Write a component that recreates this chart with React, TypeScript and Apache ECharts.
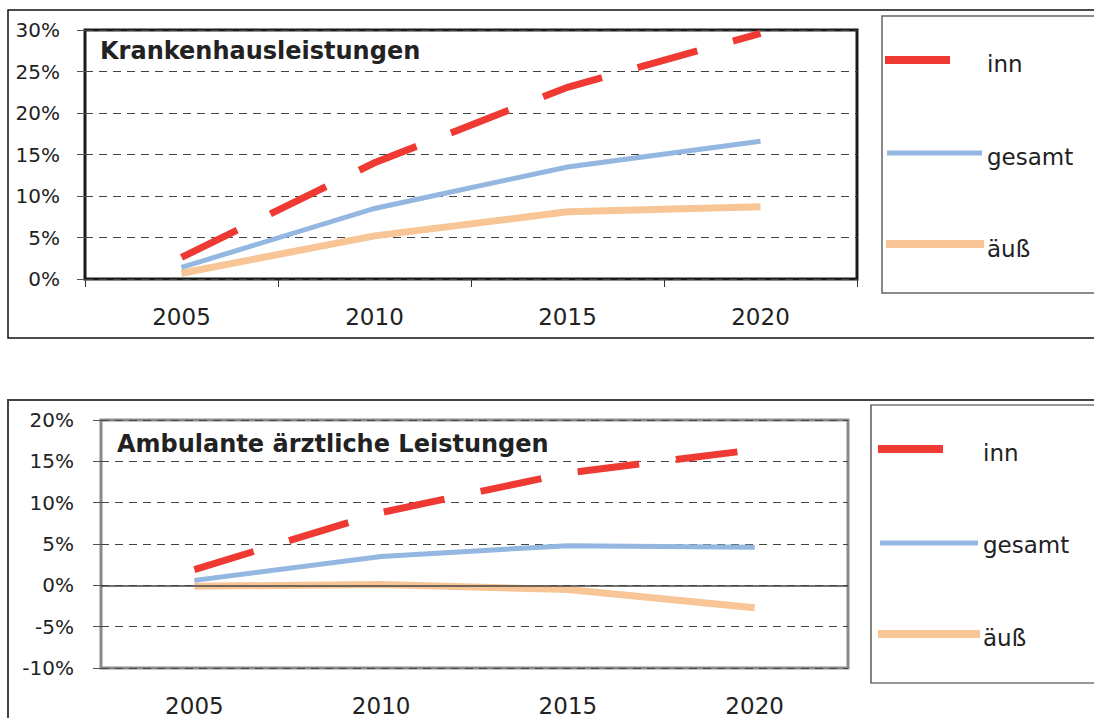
import React, { useEffect, useRef } from 'react';
import * as echarts from 'echarts';

const years = ['2005', '2010', '2015', '2020'];
const seriesNames = ['inn', 'gesamt', 'äuß'];

const titleTop = 'Krankenhausleistungen';
const khInn = [2.6, 14.0, 23.1, 29.6];
const khGesamt = [1.4, 8.5, 13.5, 16.6];
const khAeuss = [0.7, 5.2, 8.1, 8.7];

const titleBottom = 'Ambulante ärztliche Leistungen';
const ambInn = [1.9, 8.8, 13.6, 16.4];
const ambGesamt = [0.6, 3.5, 4.8, 4.6];
const ambAeuss = [-0.1, 0.1, -0.5, -2.7];

const RED = '#EE3A33';
const BLUE = '#93B7E1';
const ORANGE = '#F8C596';
const FONT = '"DejaVu Sans", sans-serif';

function App() {
  const ref = useRef<HTMLDivElement>(null);
  useEffect(() => {
    if (!ref.current) return;
    const chart = echarts.init(ref.current, null, { renderer: 'svg' });

    const xAxisBase = (gridIndex: number, showTick: boolean) => ({
      gridIndex,
      type: 'category',
      data: years,
      boundaryGap: true,
      axisLine: { show: false },
      axisTick: { show: showTick, length: 8, lineStyle: { color: '#333', width: 1 } },
      axisLabel: { margin: 26, fontSize: 23, color: '#222', fontFamily: FONT },
      splitLine: { show: false },
    });
    const yAxisBase = (gridIndex: number, min: number, max: number, margin: number) => ({
      gridIndex,
      type: 'value',
      min,
      max,
      interval: 5,
      axisLine: { show: false },
      axisTick: { show: true, length: 8, lineStyle: { color: '#555', width: 1 } },
      axisLabel: { formatter: '{value}%', margin, fontSize: 20, color: '#222', fontFamily: FONT },
      splitLine: { show: true, lineStyle: { type: [8, 6], color: '#444', width: 1 } },
    });

    const lineSeries = (name: string, data: number[], idx: number, color: string, width: number, dashed: boolean, extra: any = {}) => ({
      name,
      type: 'line',
      xAxisIndex: idx,
      yAxisIndex: idx,
      data,
      symbol: 'none',
      silent: true,
      lineStyle: { color, width, type: dashed ? [62, 37] : 'solid', cap: 'butt', join: 'miter' },
      ...extra,
    });

    const legendItems = (textX: number, ys: number[], textYs: number[], lens: number[][]) => {
      const cols = [RED, BLUE, ORANGE];
      const widths = [8, 5, 8];
      const els: any[] = [];
      for (let i = 0; i < 3; i++) {
        els.push({
          type: 'line',
          shape: { x1: lens[i][0], y1: ys[i], x2: lens[i][1], y2: ys[i] },
          style: { stroke: cols[i], lineWidth: widths[i] },
        });
        els.push({
          type: 'text',
          x: textX,
          y: textYs[i],
          style: {
            text: seriesNames[i],
            font: '23px ' + FONT,
            fill: '#222',
            verticalAlign: 'middle',
            textVerticalAlign: 'middle',
          },
        });
      }
      return els;
    };

    chart.setOption({
      animation: false,
      backgroundColor: '#fff',
      title: [
        {
          text: titleTop,
          left: 100,
          top: 39,
          padding: 0,
          textStyle: { fontFamily: FONT, fontWeight: 'bold', fontSize: 24, color: '#222' },
        },
        {
          text: titleBottom,
          left: 117,
          top: 432,
          padding: 0,
          textStyle: { fontFamily: FONT, fontWeight: 'bold', fontSize: 24, color: '#222' },
        },
      ],
      grid: [
        { left: 85, top: 30, width: 772, height: 249, show: true, borderColor: '#1a1a1a', borderWidth: 3, backgroundColor: '#fff' },
        { left: 101, top: 420, width: 747, height: 248, show: true, borderColor: '#8a8a8a', borderWidth: 3, backgroundColor: '#fff' },
      ],
      xAxis: [xAxisBase(0, true), xAxisBase(1, false)],
      yAxis: [yAxisBase(0, 0, 30, 25), yAxisBase(1, -10, 20, 27)],
      series: [
        lineSeries(seriesNames[2], khAeuss, 0, ORANGE, 7, false),
        lineSeries(seriesNames[1], khGesamt, 0, BLUE, 5, false),
        lineSeries(seriesNames[0], khInn, 0, RED, 7, true),
        lineSeries(seriesNames[2], ambAeuss, 1, ORANGE, 7, false, {
          markLine: {
            silent: true,
            symbol: 'none',
            label: { show: false },
            lineStyle: { color: '#444', type: 'solid', width: 1.5 },
            data: [{ yAxis: 0 }],
          },
        }),
        lineSeries(seriesNames[1], ambGesamt, 1, BLUE, 5, false),
        lineSeries(seriesNames[0], ambInn, 1, RED, 7, true),
      ],
      graphic: [
        {
          type: 'rect',
          shape: { x: 8, y: 10, width: 1200, height: 328 },
          style: { fill: 'none', stroke: '#111', lineWidth: 1.5 },
          silent: true,
        },
        {
          type: 'rect',
          shape: { x: 8, y: 400, width: 1200, height: 400 },
          style: { fill: 'none', stroke: '#444', lineWidth: 2 },
          silent: true,
        },
        {
          type: 'rect',
          shape: { x: 882, y: 16, width: 300, height: 277 },
          style: { fill: '#fff', stroke: '#666', lineWidth: 1.5 },
          silent: true,
        },
        {
          type: 'rect',
          shape: { x: 871, y: 405, width: 300, height: 278 },
          style: { fill: '#fff', stroke: '#333', lineWidth: 1.2 },
          silent: true,
        },
        ...legendItems(987, [60, 153, 244], [64, 157, 249], [[885, 950], [887, 982], [886, 984]]),
        ...legendItems(983, [449, 543, 634], [453, 545, 638], [[878, 943], [880, 978], [878, 980]]),
      ],
    });
    return () => chart.dispose();
  }, []);

  return (
    <div
      ref={ref}
      style={{ position: 'absolute', left: 0, top: 0, width: 1094, height: 718, background: '#fff' }}
    />
  );
}

export default App;
